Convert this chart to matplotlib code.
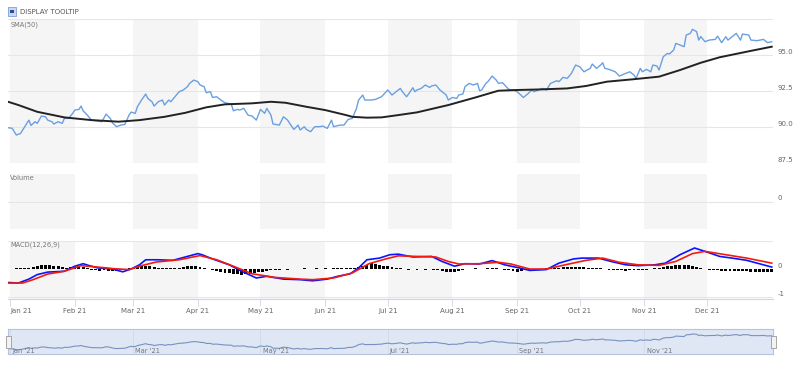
import pandas as pd
import matplotlib
matplotlib.use("Agg")
import matplotlib.pyplot as plt
import matplotlib.dates as mdates
from matplotlib.patches import Rectangle

# =====================================
# Data (day = days after 2021-01-01)
# =====================================
price_days = [-1, 1, 3, 5, 7, 9, 10, 12, 13, 15, 17, 18, 20, 21, 23, 25, 26, 28, 30, 31,
              33, 34, 35, 37, 39, 41, 44, 46, 48, 49, 51, 53, 55, 57, 58, 60, 61, 63, 65, 66,
              68, 69, 71, 73, 74, 76, 77, 79, 81, 83, 85, 86, 88, 90, 91, 93, 94, 96, 97, 99,
              101, 103, 106, 107, 109, 110, 112, 114, 116, 118, 120, 122, 123, 125, 126, 129, 131, 133, 134, 136,
              138, 139, 141, 142, 144, 146, 148, 150, 152, 154, 155, 158, 160, 162, 164, 166, 167, 169, 170, 173,
              175, 178, 181, 183, 186, 187, 188, 190, 191, 193, 194, 195, 197, 199, 201, 202, 204, 206, 207, 209,
              210, 212, 214, 215, 217, 218, 220, 222, 224, 225, 226, 228, 229, 231, 233, 234, 236, 237, 239, 241,
              243, 246, 248, 250, 251, 254, 255, 257, 259, 262, 263, 265, 267, 269, 271, 273, 275, 278, 279, 281,
              283, 284, 285, 287, 290, 292, 295, 297, 299, 300, 302, 303, 305, 307, 308, 310, 311, 313, 315, 316,
              318, 319, 321, 323, 324, 326, 327, 329, 330, 331, 333, 335, 338, 339, 341, 343, 344, 347, 348, 350,
              351, 354, 355, 358, 361, 363, 365]
price = [89.94, 89.90, 89.43, 89.54, 90.00, 90.47, 90.10, 90.36, 90.24, 90.75, 90.70, 90.47, 90.36, 90.20, 90.36, 90.24, 90.59, 90.59, 90.94, 91.17,
         91.22, 91.45, 91.12, 90.82, 90.47, 90.43, 90.36, 90.89, 90.59, 90.29, 90.01, 90.12, 90.17, 90.82, 91.03, 90.94, 91.40, 91.87, 92.29, 91.98,
         91.75, 91.45, 91.75, 91.87, 91.52, 91.87, 91.75, 92.10, 92.45, 92.57, 92.80, 93.03, 93.26, 93.15, 92.92, 92.80, 92.38, 92.45, 92.05, 92.10,
         91.87, 91.68, 91.59, 91.12, 91.22, 91.17, 91.29, 90.82, 90.75, 90.47, 91.22, 90.94, 91.29, 90.82, 90.20, 90.12, 90.70, 90.47, 90.24, 89.82,
         90.12, 89.78, 90.01, 89.82, 89.66, 90.01, 90.01, 90.05, 89.89, 90.47, 90.01, 90.12, 90.12, 90.52, 90.59, 91.29, 91.87, 92.22, 91.87, 91.87,
         91.91, 92.10, 92.57, 92.22, 92.57, 92.68, 92.45, 92.10, 92.29, 92.73, 92.45, 92.57, 92.68, 92.92, 92.75, 92.85, 92.92, 92.57, 92.45, 92.22,
         91.87, 92.05, 91.98, 92.22, 92.29, 92.80, 93.03, 92.92, 93.03, 92.52, 92.57, 93.03, 93.15, 93.54, 93.26, 93.03, 93.08, 92.92, 92.61, 92.57,
         92.45, 92.05, 92.29, 92.57, 92.45, 92.61, 92.68, 92.57, 93.03, 93.22, 93.15, 93.45, 93.38, 93.73, 94.31, 94.19, 93.84, 94.08, 94.38, 94.08,
         94.31, 94.47, 94.08, 94.01, 93.84, 93.54, 93.73, 93.84, 93.61, 93.38, 94.08, 93.84, 94.01, 93.84, 94.31, 94.24, 93.96, 94.89, 95.12, 95.08,
         95.36, 95.82, 95.71, 95.59, 96.40, 96.52, 96.80, 96.64, 96.05, 96.29, 95.94, 96.05, 96.10, 96.33, 95.87, 96.29, 96.05, 96.40, 96.52, 96.05,
         96.47, 96.40, 96.05, 96.01, 96.10, 95.87, 95.94]

sma_days = [-1, 4, 13, 26, 39, 52, 62, 74, 84, 94, 103, 116, 125, 132, 142, 151, 161, 164, 171, 178,
            186, 195, 210, 223, 234, 243, 254, 267, 276, 286, 298, 311, 321, 331, 340, 353, 365]
sma = [91.75, 91.52, 91.05, 90.66, 90.47, 90.36, 90.47, 90.70, 90.98, 91.36, 91.57, 91.64, 91.75, 91.68, 91.40, 91.17, 90.82, 90.70, 90.64, 90.66,
       90.82, 91.01, 91.52, 92.05, 92.52, 92.57, 92.61, 92.68, 92.85, 93.15, 93.31, 93.50, 93.96, 94.47, 94.85, 95.24, 95.59]

macd_days = [-1, 4, 9, 13, 18, 26, 31, 35, 38, 42, 49, 54, 58, 62, 65, 71, 78, 82, 90, 92,
             97, 105, 111, 118, 123, 131, 139, 145, 152, 157, 163, 167, 171, 177, 182, 186, 193, 202, 207, 213,
             218, 225, 231, 237, 244, 249, 257, 263, 270, 274, 282, 288, 295, 301, 309, 314, 321, 328, 333, 340,
             346, 353, 359, 365]
macd = [-0.48, -0.50, -0.36, -0.20, -0.11, -0.08, 0.10, 0.19, 0.12, 0.04, 0.00, -0.10, 0.00, 0.15, 0.33, 0.33, 0.31, 0.39, 0.55, 0.51,
        0.36, 0.15, -0.08, -0.32, -0.26, -0.36, -0.38, -0.42, -0.36, -0.26, -0.17, 0.04, 0.33, 0.39, 0.51, 0.53, 0.43, 0.45, 0.27, 0.10,
        0.19, 0.18, 0.30, 0.15, 0.04, -0.05, -0.02, 0.21, 0.36, 0.39, 0.39, 0.27, 0.15, 0.12, 0.15, 0.21, 0.51, 0.75, 0.63, 0.45,
        0.39, 0.31, 0.19, 0.07]

signal_days = [-1, 6, 11, 18, 26, 34, 42, 50, 57, 63, 70, 81, 91, 99, 107, 116, 127, 139, 145, 155,
               164, 172, 180, 186, 195, 204, 210, 215, 225, 234, 240, 249, 257, 266, 276, 284, 292, 301, 311, 319,
               327, 333, 343, 353, 365]
signal = [-0.50, -0.50, -0.38, -0.18, -0.08, 0.12, 0.07, 0.01, -0.02, 0.12, 0.25, 0.33, 0.48, 0.33, 0.10, -0.17, -0.30, -0.36, -0.38, -0.32,
          -0.14, 0.19, 0.36, 0.47, 0.45, 0.43, 0.27, 0.18, 0.19, 0.24, 0.18, 0.00, 0.00, 0.15, 0.31, 0.39, 0.24, 0.15, 0.13, 0.27,
          0.55, 0.63, 0.51, 0.39, 0.21]

hist_days = list(range(-1, 366, 2))
hist = [0.01, 0.01, 0.02, 0.02, 0.03, 0.05, 0.08, 0.10, 0.13, 0.15, 0.14, 0.12, 0.09, 0.07, 0.05,
        0.07, 0.09, 0.08, 0.06, 0.02, -0.03, -0.05, -0.06, -0.05, -0.07, -0.08, -0.06, -0.04, -0.02, 0.02,
        0.05, 0.08, 0.11, 0.12, 0.10, 0.07, 0.05, 0.04, 0.03, 0.03, 0.02, 0.05, 0.08, 0.10, 0.09,
        0.10, 0.08, 0.04, 0.00, -0.04, -0.07, -0.10, -0.13, -0.15, -0.17, -0.19, -0.20, -0.18, -0.16, -0.14,
        -0.12, -0.10, -0.07, -0.04, -0.03, -0.02, -0.01, -0.02, -0.01, 0.01, 0.01, 0.02, 0.01, 0.01, 0.02,
        0.01, 0.02, 0.01, 0.02, 0.02, 0.03, 0.03, 0.04, 0.05, 0.06, 0.10, 0.15, 0.20, 0.18, 0.16,
        0.12, 0.10, 0.08, 0.05, 0.02, -0.01, -0.02, -0.01, -0.02, -0.01, -0.02, -0.01, -0.02, -0.05, -0.08,
        -0.10, -0.11, -0.10, -0.06, -0.02, -0.01, 0.01, 0.02, 0.01, -0.01, 0.02, 0.03, 0.02, 0.01, -0.02,
        -0.05, -0.08, -0.09, -0.08, -0.05, -0.03, -0.02, -0.02, -0.01, 0.02, 0.03, 0.04, 0.05, 0.06, 0.07,
        0.07, 0.08, 0.07, 0.06, 0.05, 0.04, 0.03, 0.02, 0.01, -0.02, -0.04, -0.05, -0.05, -0.06, -0.05,
        -0.05, -0.04, -0.03, -0.02, -0.01, 0.02, 0.05, 0.08, 0.10, 0.12, 0.13, 0.14, 0.15, 0.14, 0.12,
        0.08, 0.04, 0.01, -0.02, -0.04, -0.05, -0.06, -0.06, -0.07, -0.07, -0.08, -0.08, -0.08, -0.09, -0.09,
        -0.09, -0.10, -0.10, -0.10]

month_labels = ["Jan 21", "Feb 21", "Mar 21", "Apr 21", "May 21", "Jun 21",
                "Jul 21", "Aug 21", "Sep 21", "Oct 21", "Nov 21", "Dec 21"]
nav_labels = ["Jan '21", "Mar '21", "May '21", "Jul '21", "Sep '21", "Nov '21"]
main_ticks = [87.5, 90.0, 92.5, 95.0]
macd_ticks = [0, -1]

# =====================================
# Helpers
# =====================================
base = mdates.date2num(pd.Timestamp("2021-01-01"))


def to_x(days):
    return [base + d for d in days]


month_starts = [mdates.date2num(pd.Timestamp(2021, m, 1)) for m in range(1, 13)]
month_ends = month_starts[1:] + [mdates.date2num(pd.Timestamp(2022, 1, 1))]
x_lo = base - 1.0
x_hi = base + 365.6

W, H = 800, 365
fig = plt.figure(figsize=(W / 100, H / 100), dpi=100)


def add_px_axes(left, top, right, bottom):
    return fig.add_axes([left / W, 1 - bottom / H, (right - left) / W, (bottom - top) / H])


GRID = "#e6e6e6"
SHADE = "#f5f5f5"
TXT = "#666666"


def base_style(ax):
    ax.set_xlim(x_lo, x_hi)
    for s in ax.spines.values():
        s.set_visible(False)
    ax.set_xticks([])
    ax.set_yticks([])
    ax.set_facecolor("none")
    for i in range(0, 12, 2):
        ax.axvspan(month_starts[i], month_ends[i], color=SHADE, zorder=0, lw=0)


def right_label(ax, v, text):
    ax.text(1.0055, v, text, transform=ax.get_yaxis_transform(), ha="left", va="bottom",
            fontsize=5, color=TXT)


# =====================================
# Main panel (price + SMA)
# =====================================
ax = add_px_axes(8, 19.3, 773, 162.7)
base_style(ax)
ax.set_ylim(87.5, 97.5)
for v in main_ticks + [97.5]:
    ax.axhline(v, color=GRID, lw=0.8, zorder=1)
for v in main_ticks:
    right_label(ax, v, f"{v:.1f}")
ax.plot(to_x(price_days), price, color="#6aa0e0", lw=1.0, zorder=3)
ax.plot(to_x(sma_days), sma, color="#222222", lw=1.4, zorder=4)
ax.text(0.003, 0.985, "SMA(50)", transform=ax.transAxes, fontsize=4.8, color="#777777", va="top")

# =====================================
# Volume panel
# =====================================
axv = add_px_axes(8, 174, 773, 229)
base_style(axv)
axv.set_ylim(-1, 1)
axv.axhline(0, color=GRID, lw=0.8, zorder=1)
right_label(axv, 0, "0")
axv.text(0.003, 0.98, "Volume", transform=axv.transAxes, fontsize=4.8, color="#777777", va="top")

# =====================================
# MACD panel
# =====================================
axm = add_px_axes(8, 241, 773, 299)
base_style(axm)
axm.set_ylim(-1.07, 1.0)
axm.axhline(1.0, color=GRID, lw=0.8, zorder=1)
axm.axhline(-1.0, color=GRID, lw=0.8, zorder=1)
for v in macd_ticks:
    right_label(axm, v, f"{v}")
axm.bar(to_x(hist_days), hist, width=1.4, color="black", zorder=2)
axm.plot(to_x(macd_days), macd, color="#0a14ff", lw=1.2, zorder=3)
axm.plot(to_x(signal_days), signal, color="#f51a10", lw=1.2, zorder=4)
axm.spines["bottom"].set_visible(True)
axm.spines["bottom"].set_color("#ccd6eb")
axm.spines["bottom"].set_linewidth(0.8)
axm.set_xticks(month_starts)
axm.set_xticklabels(month_labels)
axm.tick_params(axis="x", length=5, width=0.6, color="#ccd6eb", labelsize=5, labelcolor=TXT, pad=1.5)
axm.get_xticklabels()[0].set_ha("left")
axm.text(0.003, 0.99, "MACD(12,26,9)", transform=axm.transAxes, fontsize=4.8, color="#777777", va="top")

# =====================================
# Navigator
# =====================================
axn = add_px_axes(8, 329, 773, 354)
axn.set_xlim(x_lo, x_hi)
axn.set_ylim(87.5, 99.1)
axn.set_facecolor("#dfe7f5")
for s in axn.spines.values():
    s.set_color("#b3c3e0")
    s.set_linewidth(0.8)
axn.set_xticks([])
axn.set_yticks([])
axn.plot(to_x(price_days), price, color="#7891c0", lw=0.8)
for i, lab in enumerate(nav_labels):
    xm = month_starts[2 * i]
    axn.axvline(xm, color="#cfd9ec", lw=0.6, zorder=0)
    axn.text(xm + 1.0, 89.0, lab, fontsize=4.8, color="#777777", ha="left", va="center")

# navigator handles
for hx in (8, 773):
    fig.add_artist(Rectangle(((hx - 2.5) / W, 1 - 348 / H), 5 / W, 12 / H,
                             transform=fig.transFigure, facecolor="#f2f2f2",
                             edgecolor="#999999", lw=0.6))

# =====================================
# Top: display tooltip toggle
# =====================================
fig.add_artist(Rectangle((8 / W, 1 - 15.5 / H), 8 / W, 8 / H, transform=fig.transFigure,
                         facecolor="#c9d8f0", edgecolor="#7f9fd3", lw=0.6))
fig.add_artist(Rectangle((10.3 / W, 1 - 13.2 / H), 3.4 / W, 3.4 / H, transform=fig.transFigure,
                         facecolor="#2d4b9e", edgecolor="none"))
fig.text(19.5 / W, 1 - 11.5 / H, "DISPLAY TOOLTIP", fontsize=5, color="#555555", va="center", ha="left")

fig.savefig("out.png", dpi=100)
